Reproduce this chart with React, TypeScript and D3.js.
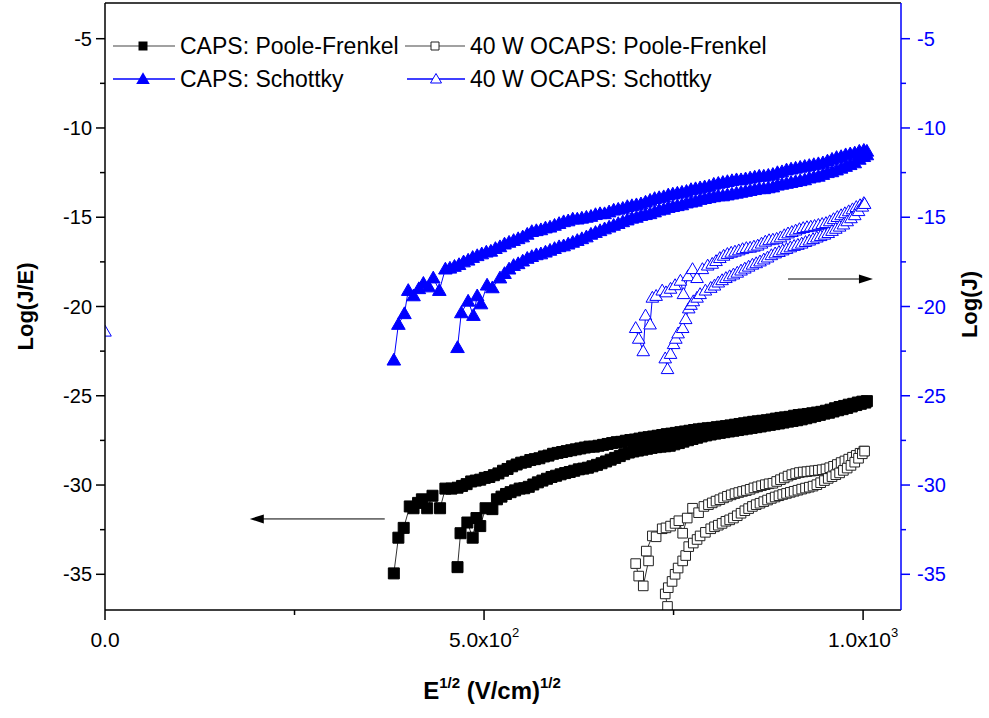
import React from "react";
import * as d3 from "d3";

type P = [number, number];

// CAPS Schottky (filled blue triangles, right axis Log(J))
const capsSchottkyA: P[] = [
  [381, -23.0], [387, -21.0], [395, -20.4], [400, -19.1], [407, -19.4], [414, -19.0], [420, -18.7], [427, -18.9],
  [433, -18.4], [441, -19.1], [449, -17.9], [455, -17.85], [461, -17.75], [467, -17.65], [473, -17.5], [479, -17.4],
  [485, -17.25], [491, -17.15], [497, -17.05], [503, -16.95], [509, -16.9], [515, -16.75], [521, -16.65], [527, -16.5],
  [533, -16.4], [539, -16.3], [545, -16.2], [551, -16.1], [557, -15.95], [563, -15.8], [569, -15.75], [575, -15.7],
  [581, -15.6], [587, -15.55], [593, -15.45], [599, -15.35], [605, -15.25], [611, -15.2], [617, -15.1], [623, -15.1],
  [629, -15.05], [635, -15.0], [641, -14.95], [647, -14.85], [653, -14.8], [659, -14.8], [665, -14.7], [671, -14.6],
  [677, -14.55], [683, -14.5], [689, -14.4], [695, -14.35], [701, -14.3], [707, -14.25], [713, -14.15], [719, -14.05],
  [725, -13.95], [731, -13.9], [737, -13.85], [743, -13.75], [749, -13.7], [755, -13.65], [761, -13.6], [767, -13.55],
  [773, -13.45], [779, -13.4], [785, -13.35], [791, -13.3], [797, -13.25], [803, -13.15], [809, -13.1], [815, -13.05],
  [821, -13.0], [827, -12.95], [833, -12.9], [839, -12.9], [845, -12.85], [851, -12.8], [857, -12.75], [863, -12.7],
  [869, -12.7], [875, -12.65], [881, -12.6], [887, -12.5], [893, -12.45], [899, -12.35], [905, -12.3], [911, -12.25],
  [917, -12.2], [923, -12.15], [929, -12.1], [935, -12.05], [941, -12.0], [947, -11.95], [953, -11.85], [959, -11.75],
  [965, -11.65], [971, -11.6], [977, -11.5], [983, -11.45], [989, -11.4], [995, -11.3], [1001, -11.25], [1005, -11.3],
];
const capsSchottkyB: P[] = [
  [465, -22.3], [470, -20.35], [479, -19.7], [486, -20.5], [491, -19.4], [496, -19.85], [504, -18.8], [511, -18.95],
  [521, -18.4], [527, -18.15], [533, -17.9], [539, -17.7], [545, -17.6], [551, -17.45], [557, -17.3], [563, -17.2],
  [569, -17.1], [575, -17.05], [581, -16.95], [587, -16.85], [593, -16.75], [599, -16.65], [605, -16.6], [611, -16.5],
  [617, -16.4], [623, -16.3], [629, -16.2], [635, -16.1], [641, -15.95], [647, -15.85], [653, -15.75], [659, -15.65],
  [665, -15.55], [671, -15.45], [677, -15.35], [683, -15.25], [689, -15.15], [695, -15.05], [701, -15.0], [707, -14.9],
  [713, -14.85], [719, -14.8], [725, -14.7], [731, -14.6], [737, -14.55], [743, -14.45], [749, -14.4], [755, -14.35],
  [761, -14.3], [767, -14.2], [773, -14.15], [779, -14.1], [785, -14.0], [791, -13.95], [797, -13.9], [803, -13.85],
  [809, -13.8], [815, -13.8], [821, -13.75], [827, -13.7], [833, -13.65], [839, -13.6], [845, -13.55], [851, -13.5],
  [857, -13.45], [863, -13.4], [869, -13.4], [875, -13.35], [881, -13.3], [887, -13.2], [893, -13.15], [899, -13.1],
  [905, -13.05], [911, -13.0], [917, -12.95], [923, -12.9], [929, -12.8], [935, -12.75], [941, -12.7], [947, -12.6],
  [953, -12.5], [959, -12.45], [965, -12.35], [971, -12.25], [977, -12.15], [983, -12.05], [989, -11.95], [995, -11.75],
  [1001, -11.6], [1005, -11.5],
];

// 40 W OCAPS Schottky (open blue triangles, right axis)
const ocapsSchottkyA: P[] = [
  [700, -21.2], [704, -21.8], [710, -22.5], [713, -20.5], [719, -21.0], [722, -19.5], [727, -19.4], [735, -19.1],
  [740, -19.2], [746, -19.0], [752, -18.8], [759, -18.55], [763, -19.3], [769, -18.3], [775, -17.9], [781, -18.4],
  [788, -17.9], [795, -17.7], [801, -17.6], [806, -17.45], [811, -17.28], [816, -17.15], [821, -17.05], [826, -16.98],
  [831, -16.92], [836, -16.85], [841, -16.78], [846, -16.72], [851, -16.7], [856, -16.64], [861, -16.58], [866, -16.47],
  [871, -16.36], [876, -16.28], [881, -16.25], [886, -16.2], [891, -16.12], [896, -16.0], [901, -15.9], [906, -15.82],
  [911, -15.74], [916, -15.66], [921, -15.6], [926, -15.55], [931, -15.52], [936, -15.48], [941, -15.42], [946, -15.37],
  [951, -15.32], [956, -15.22], [961, -15.1], [966, -14.98], [971, -14.88], [976, -14.77], [981, -14.66], [986, -14.55],
  [991, -14.42], [996, -14.32], [1001, -14.2],
];
const ocapsSchottkyB: P[] = [
  [742, -23.5], [739, -22.9], [746, -22.65], [750, -22.1], [753, -21.8], [756, -21.5], [762, -21.2], [766, -20.7],
  [770, -20.1], [773, -19.9], [776, -19.7], [781, -19.5], [785, -19.3], [792, -19.1], [799, -18.95], [804, -18.82],
  [809, -18.65], [814, -18.52], [819, -18.4], [824, -18.3], [829, -18.2], [834, -18.1], [839, -17.98], [844, -17.87],
  [849, -17.76], [854, -17.65], [859, -17.57], [864, -17.47], [869, -17.36], [874, -17.25], [879, -17.12], [884, -17.02],
  [889, -16.94], [894, -16.85], [899, -16.77], [904, -16.68], [909, -16.6], [914, -16.54], [919, -16.47], [924, -16.38],
  [929, -16.3], [934, -16.22], [939, -16.13], [944, -16.05], [949, -15.97], [954, -15.88], [959, -15.76], [964, -15.64],
  [969, -15.52], [974, -15.4], [979, -15.22], [984, -15.05], [989, -14.88], [994, -14.65], [999, -14.4], [1002, -14.25],
];
const ocapsSchottkyStray: P[] = [[0, -21.4]];

// CAPS Poole-Frenkel (filled black squares, left axis Log(J/E))
const capsPFA: P[] = [
  [381, -34.95], [387, -32.95], [394, -32.4], [402, -31.2], [407, -31.3], [413, -31.0], [418, -30.8], [425, -31.3],
  [432, -30.6], [442, -31.3], [449, -30.2], [457, -30.2], [465, -30.15], [471, -30.05], [477, -29.95], [483, -29.8],
  [489, -29.75], [495, -29.7], [501, -29.6], [507, -29.55], [513, -29.45], [519, -29.35], [525, -29.2], [531, -29.1],
  [537, -28.95], [543, -28.85], [549, -28.75], [555, -28.7], [561, -28.6], [567, -28.55], [573, -28.5], [579, -28.4],
  [585, -28.35], [591, -28.25], [597, -28.2], [603, -28.15], [609, -28.1], [615, -28.05], [621, -28.0], [627, -27.95],
  [633, -27.9], [639, -27.85], [645, -27.85], [651, -27.8], [657, -27.75], [663, -27.7], [669, -27.65], [675, -27.6],
  [681, -27.58], [687, -27.52], [693, -27.48], [699, -27.45], [705, -27.4], [711, -27.35], [717, -27.32], [723, -27.28],
  [729, -27.24], [735, -27.2], [741, -27.15], [747, -27.12], [753, -27.08], [759, -27.04], [765, -27.0], [771, -26.96],
  [777, -26.92], [783, -26.88], [789, -26.85], [795, -26.82], [801, -26.8], [807, -26.76], [813, -26.73], [819, -26.7],
  [825, -26.66], [831, -26.62], [837, -26.58], [843, -26.54], [849, -26.5], [855, -26.46], [861, -26.43], [867, -26.4],
  [873, -26.37], [879, -26.33], [885, -26.28], [891, -26.24], [897, -26.21], [903, -26.18], [909, -26.12], [915, -26.08],
  [921, -26.05], [927, -26.02], [933, -25.98], [939, -25.94], [945, -25.9], [951, -25.84], [957, -25.78], [963, -25.7],
  [969, -25.63], [975, -25.57], [981, -25.5], [987, -25.45], [993, -25.38], [999, -25.33], [1005, -25.3],
];
const capsPFB: P[] = [
  [465, -34.6], [469, -32.7], [478, -32.1], [485, -32.95], [490, -31.85], [495, -32.3], [502, -31.3], [511, -31.35],
  [517, -30.8], [523, -30.65], [529, -30.5], [535, -30.4], [541, -30.3], [547, -30.2], [553, -30.18], [559, -30.1],
  [565, -29.97], [571, -29.85], [577, -29.75], [583, -29.65], [589, -29.55], [595, -29.48], [601, -29.4], [607, -29.33],
  [613, -29.27], [619, -29.2], [625, -29.12], [631, -29.08], [637, -29.03], [643, -28.95], [649, -28.87], [655, -28.78],
  [661, -28.68], [667, -28.58], [673, -28.48], [679, -28.38], [685, -28.27], [691, -28.18], [697, -28.12], [703, -28.07],
  [709, -28.02], [715, -27.97], [721, -27.92], [727, -27.88], [733, -27.85], [739, -27.83], [745, -27.8], [751, -27.72],
  [757, -27.65], [763, -27.57], [769, -27.49], [775, -27.42], [781, -27.35], [787, -27.28], [793, -27.22], [799, -27.17],
  [805, -27.12], [811, -27.08], [817, -27.04], [823, -27.0], [829, -26.96], [835, -26.92], [841, -26.88], [847, -26.84],
  [853, -26.8], [859, -26.76], [865, -26.72], [871, -26.67], [877, -26.63], [883, -26.59], [889, -26.55], [895, -26.5],
  [901, -26.45], [907, -26.41], [913, -26.37], [919, -26.32], [925, -26.26], [931, -26.2], [937, -26.13], [943, -26.07],
  [949, -26.0], [955, -25.95], [961, -25.88], [967, -25.81], [973, -25.75], [979, -25.68], [985, -25.6], [991, -25.52],
  [997, -25.45], [1003, -25.38],
];

// 40 W OCAPS Poole-Frenkel (open squares, left axis)
const ocapsPFA: P[] = [
  [700, -34.4], [704, -35.1], [710, -35.65], [717, -34.25], [714, -33.7], [722, -32.85], [727, -32.9], [735, -32.45],
  [740, -32.4], [746, -32.3], [752, -32.15], [757, -32.0], [762, -32.7], [768, -31.85], [775, -31.3], [783, -31.55],
  [790, -31.2], [796, -31.1], [801, -31.0], [806, -30.9], [811, -30.82], [816, -30.72], [821, -30.63], [826, -30.55],
  [831, -30.48], [836, -30.42], [841, -30.36], [846, -30.31], [851, -30.24], [856, -30.16], [861, -30.1], [866, -30.04],
  [871, -29.98], [876, -29.93], [881, -29.9], [886, -29.8], [891, -29.7], [896, -29.6], [901, -29.5], [906, -29.42],
  [911, -29.36], [916, -29.3], [921, -29.27], [926, -29.25], [931, -29.22], [936, -29.2], [941, -29.17], [946, -29.14],
  [951, -29.1], [956, -29.03], [961, -28.95], [966, -28.85], [971, -28.74], [976, -28.65], [981, -28.55], [986, -28.44],
  [991, -28.34], [996, -28.22], [1001, -28.1],
];
const ocapsPFB: P[] = [
  [742, -36.8], [739, -36.1], [743, -35.75], [748, -35.4], [752, -35.0], [756, -34.65], [762, -34.25], [766, -33.95],
  [770, -33.45], [776, -33.25], [781, -33.05], [785, -32.85], [792, -32.65], [799, -32.45], [804, -32.34], [809, -32.25],
  [814, -32.15], [819, -32.03], [824, -31.95], [829, -31.85], [834, -31.72], [839, -31.58], [844, -31.44], [849, -31.32],
  [854, -31.2], [859, -31.1], [864, -31.02], [869, -30.93], [874, -30.84], [879, -30.75], [884, -30.67], [889, -30.6],
  [894, -30.53], [899, -30.47], [904, -30.41], [909, -30.35], [914, -30.29], [919, -30.23], [924, -30.17], [929, -30.12],
  [934, -30.06], [939, -29.98], [944, -29.87], [949, -29.75], [954, -29.63], [959, -29.53], [964, -29.42], [969, -29.32],
  [974, -29.18], [979, -29.05], [984, -28.9], [989, -28.72], [994, -28.5], [999, -28.25], [1002, -28.1],
];

const yMajorTicks = [-5, -10, -15, -20, -25, -30, -35];
const yMinorTicks = [-7.5, -12.5, -17.5, -22.5, -27.5, -32.5];
const xMajorTicks = [0, 500, 1000];
const xMinorTicks = [250, 750];
const xTickLabels = [
  { v: 0, base: "0.0", sup: "" },
  { v: 500, base: "5.0x10", sup: "2" },
  { v: 1000, base: "1.0x10", sup: "3" },
];
const legendLabels = [
  "CAPS: Poole-Frenkel",
  "40 W OCAPS: Poole-Frenkel",
  "CAPS: Schottky",
  "40 W OCAPS: Schottky",
];
// arrows (data coordinates): [from, to]
const arrowLeft: [P, P] = [[369, -31.9], [191, -31.9]];
const arrowRight: [P, P] = [[901, -18.46], [1013, -18.46]];

const BLUE = "#0000ff";
const FONT = "'Liberation Sans', Arial, Helvetica, sans-serif";

const TRI = "M0,-6.8L6.8,5L-6.8,5Z";
const TRIO = "M0,-6.3L6.3,4.6L-6.3,4.6Z";
const SQ = "M-5.5,-5.5h11v11h-11z";
const SQO = "M-4.8,-4.8h9.6v9.6h-9.6z";

export default function App() {
  const W = 989, H = 718;
  const L = 105, R = 901, T = 3, B = 610;
  const x = d3.scaleLinear().domain([0, 1050]).range([L, R]);
  const y = d3.scaleLinear().domain([-37, -3]).range([B, T]);
  const line = d3.line<P>().x((d) => x(d[0])).y((d) => y(d[1]));

  const series = (
    key: string,
    data: P[],
    lineColor: string,
    shape: string,
    fill: string,
    stroke: string
  ) => (
    <g key={key}>
      <path d={line(data) || ""} fill="none" stroke={lineColor} strokeWidth={1} />
      {data.map((d, i) => (
        <path
          key={i}
          d={shape}
          transform={`translate(${x(d[0])},${y(d[1])})`}
          fill={fill}
          stroke={stroke}
          strokeWidth={1}
        />
      ))}
    </g>
  );

  const arrow = (a: [P, P], key: string) => {
    const x0 = x(a[0][0]), y0 = y(a[0][1]), x1 = x(a[1][0]), y1 = y(a[1][1]);
    const dir = Math.sign(x1 - x0);
    return (
      <g key={key}>
        <line x1={x0} y1={y0} x2={x1 - dir * 10} y2={y1} stroke="#000" strokeWidth={1} />
        <path d={`M${x1},${y1}L${x1 - dir * 14},${y1 - 4.5}L${x1 - dir * 14},${y1 + 4.5}Z`} fill="#000" />
      </g>
    );
  };

  return (
    <svg
      width={W}
      height={H}
      style={{ position: "absolute", left: 0, top: 0, background: "#fff" }}
      fontFamily={FONT}
    >
      <defs>
        <clipPath id="plotclip">
          <rect x={L} y={T} width={R - L} height={B - T} />
        </clipPath>
      </defs>
      <rect x={0} y={0} width={W} height={H} fill="#fff" />

      {/* data */}
      <g clipPath="url(#plotclip)">
        {series("ps1", ocapsPFA, "#333", SQO, "#fff", "#222")}
        {series("ps2", ocapsPFB, "#333", SQO, "#fff", "#222")}
        {series("pc1", capsPFA, "#333", SQ, "#000", "#000")}
        {series("pc2", capsPFB, "#333", SQ, "#000", "#000")}
        {series("ss1", ocapsSchottkyA, BLUE, TRIO, "#fff", BLUE)}
        {series("ss2", ocapsSchottkyB, BLUE, TRIO, "#fff", BLUE)}
        {series("ss3", ocapsSchottkyStray, BLUE, TRIO, "#fff", BLUE)}
        {series("sc1", capsSchottkyA, BLUE, TRI, BLUE, BLUE)}
        {series("sc2", capsSchottkyB, BLUE, TRI, BLUE, BLUE)}
      </g>

      {/* frame */}
      <line x1={L} y1={T} x2={R} y2={T} stroke="#000" strokeWidth={1.5} />
      <line x1={L} y1={B} x2={R} y2={B} stroke="#000" strokeWidth={1.5} />
      <line x1={L} y1={T} x2={L} y2={B} stroke="#000" strokeWidth={1.5} />
      <line x1={R} y1={T} x2={R} y2={B} stroke={BLUE} strokeWidth={1.5} />

      {/* left axis */}
      {yMajorTicks.map((v) => (
        <g key={"ly" + v}>
          <line x1={L - 9} x2={L} y1={y(v)} y2={y(v)} stroke="#000" strokeWidth={1.5} />
          <text x={L - 13} y={y(v)} dy="0.35em" textAnchor="end" fontSize={20} fill="#000">
            {v}
          </text>
        </g>
      ))}
      {yMinorTicks.map((v) => (
        <line key={"lym" + v} x1={L - 5} x2={L} y1={y(v)} y2={y(v)} stroke="#000" strokeWidth={1.5} />
      ))}

      {/* right axis */}
      {yMajorTicks.map((v) => (
        <g key={"ry" + v}>
          <line x1={R} x2={R + 9} y1={y(v)} y2={y(v)} stroke={BLUE} strokeWidth={1.5} />
          <text x={R + 16} y={y(v)} dy="0.35em" textAnchor="start" fontSize={20} fill={BLUE}>
            {v}
          </text>
        </g>
      ))}
      {yMinorTicks.map((v) => (
        <line key={"rym" + v} x1={R} x2={R + 5} y1={y(v)} y2={y(v)} stroke={BLUE} strokeWidth={1.5} />
      ))}

      {/* bottom axis */}
      {xMajorTicks.map((v) => (
        <line key={"bx" + v} x1={x(v)} x2={x(v)} y1={B} y2={B + 10} stroke="#000" strokeWidth={1.5} />
      ))}
      {xMinorTicks.map((v) => (
        <line key={"bxm" + v} x1={x(v)} x2={x(v)} y1={B} y2={B + 5} stroke="#000" strokeWidth={1.5} />
      ))}
      {xTickLabels.map((t) => (
        <text key={"xl" + t.v} x={x(t.v)} y={647} textAnchor="middle" fontSize={21} fill="#000">
          {t.base}
          {t.sup ? (
            <tspan fontSize={13} dy={-10}>
              {t.sup}
            </tspan>
          ) : null}
        </text>
      ))}

      {/* axis titles */}
      <text
        transform={`translate(33,${(T + B) / 2}) rotate(-90)`}
        textAnchor="middle"
        fontSize={22}
        fontWeight="bold"
        fill="#000"
      >
        Log(J/E)
      </text>
      <text
        transform={`translate(977,${(T + B) / 2 - 2}) rotate(-90)`}
        textAnchor="middle"
        fontSize={22}
        fontWeight="bold"
        fill="#000"
      >
        Log(J)
      </text>
      <text x={492} y={699} textAnchor="middle" fontSize={24} fontWeight="bold" fill="#000">
        E<tspan fontSize={15} dy={-11}>1/2</tspan>
        <tspan dy={11}> (V/cm)</tspan>
        <tspan fontSize={15} dy={-11}>1/2</tspan>
      </text>

      {/* arrows */}
      {arrow(arrowLeft, "al")}
      {arrow(arrowRight, "ar")}

      {/* legend */}
      <g>
        <line x1={113} x2={175} y1={46} y2={46} stroke="#444" strokeWidth={1.2} />
        <path d="M-4.5,-4.5h9v9h-9z" transform="translate(143,46)" fill="#000" />
        <text x={180} y={54} fontSize={23} fill="#000">{legendLabels[0]}</text>

        <line x1={405} x2={465} y1={46} y2={46} stroke="#444" strokeWidth={1.2} />
        <path d="M-4,-4h8v8h-8z" transform="translate(435,46)" fill="#fff" stroke="#222" strokeWidth={1} />
        <text x={470} y={54} fontSize={23} fill="#000">{legendLabels[1]}</text>

        <line x1={113} x2={175} y1={79} y2={79} stroke={BLUE} strokeWidth={1.5} />
        <path d={TRI} transform="translate(143,79)" fill={BLUE} />
        <text x={180} y={87} fontSize={23} fill="#000">{legendLabels[2]}</text>

        <line x1={407} x2={465} y1={79} y2={79} stroke={BLUE} strokeWidth={1.5} />
        <path d="M0,-5.5L5.5,4L-5.5,4Z" transform="translate(436,79)" fill="#fff" stroke={BLUE} strokeWidth={1} />
        <text x={470} y={87} fontSize={23} fill="#000">{legendLabels[3]}</text>
      </g>
    </svg>
  );
}
